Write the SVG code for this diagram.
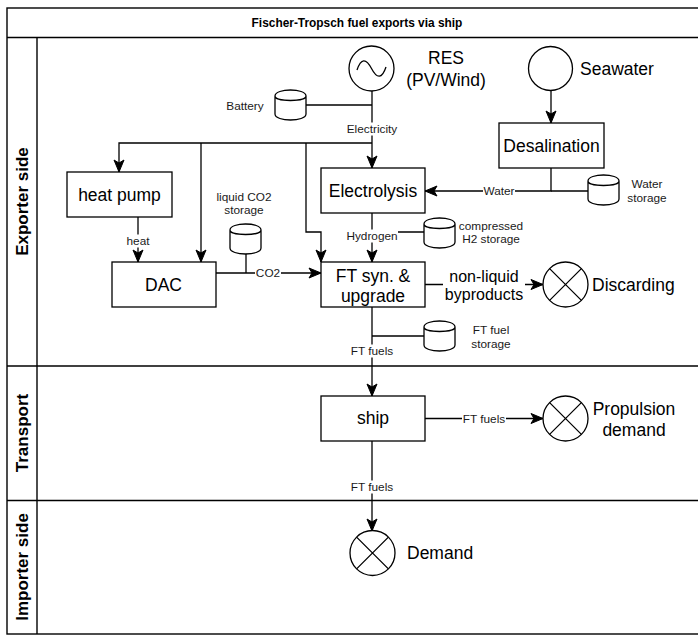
<svg xmlns="http://www.w3.org/2000/svg" width="698" height="635" viewBox="0 0 698 635">
<style>
.frame{fill:none;stroke:#000;stroke-width:1.4}
.box{fill:#fff;stroke:#000;stroke-width:1.3}
.ln{fill:none;stroke:#000;stroke-width:1.3}
.arr{fill:none;stroke:#000;stroke-width:1.3;marker-end:url(#ah)}
.t{font-family:"Liberation Sans",Arial,sans-serif;fill:#000;text-anchor:middle;dominant-baseline:central}
.big{font-size:17.5px}
.mid{font-size:16px}
.sm{font-size:11.8px;fill:#1a1a1a}
.lane{font-size:17px;font-weight:bold}
.title{font-size:11.9px;font-weight:bold}
.bg{fill:#fff;stroke:none}
.st{text-anchor:start}
</style>
<defs>
<marker id="ah" markerUnits="userSpaceOnUse" markerWidth="13" markerHeight="11" refX="12" refY="5" orient="auto" overflow="visible">
<path d="M0,0 L12,5 L0,10 L3,5 Z" fill="#000" stroke="#000" stroke-width="1" stroke-linejoin="miter"/>
</marker>
<path id="cyl" d="M0,6 C0,-2 31,-2 31,6 L31,24 C31,32 0,32 0,24 Z M0,6 C0,12 31,12 31,6" fill="#fff" stroke="#000" stroke-width="1.3"/>
</defs>
<rect width="698" height="635" fill="#fff"/>

<g id="pool">
<rect class="frame" x="7" y="8" width="700" height="626"/>
<line class="frame" x1="7" y1="37.5" x2="707" y2="37.5"/>
<line class="frame" x1="37" y1="37.5" x2="37" y2="634"/>
<line class="frame" x1="7" y1="366" x2="707" y2="366"/>
<line class="frame" x1="7" y1="500.5" x2="707" y2="500.5"/>
<text class="t title" x="357" y="23">Fischer-Tropsch fuel exports via ship</text>
<text class="t lane" transform="translate(22,201.5) rotate(-90)">Exporter side</text>
<text class="t lane" transform="translate(22,433) rotate(-90)">Transport</text>
<text class="t lane" transform="translate(22,567) rotate(-90)">Importer side</text>
</g>

<g id="connectors">
<path class="arr" d="M372,91 V168"/>
<path class="ln" d="M306,105 H372"/>
<path class="arr" d="M372,143 H119 V172"/>
<path class="arr" d="M201,143 V262"/>
<path class="arr" d="M306,143 V232 H321 V262"/>
<path class="arr" d="M551,91 V123"/>
<path class="arr" d="M551,168 V191 H425"/>
<path class="ln" d="M551,191 H588"/>
<path class="arr" d="M372,213 V262"/>
<path class="ln" d="M372,232 H424"/>
<path class="arr" d="M138,217 V262"/>
<path class="arr" d="M216,273 H321"/>
<path class="ln" d="M246,253 V273"/>
<path class="arr" d="M425,284.5 H543"/>
<path class="arr" d="M372,307 V396"/>
<path class="ln" d="M372,336 H424"/>
<path class="arr" d="M425,418.5 H543"/>
<path class="arr" d="M372,441 V531"/>

<rect class="bg" x="346" y="122.5" width="52" height="13"/>
<text class="t sm" x="372" y="129">Electricity</text>
<rect class="bg" x="483" y="184.5" width="32" height="13"/>
<text class="t sm" x="499" y="191">Water</text>
<rect class="bg" x="346" y="229.5" width="52" height="13"/>
<text class="t sm" x="372" y="236">Hydrogen</text>
<rect class="bg" x="126" y="234.5" width="24" height="13"/>
<text class="t sm" x="138" y="241">heat</text>
<rect class="bg" x="255" y="266.5" width="26" height="13"/>
<text class="t sm" x="268" y="273">CO2</text>
<rect class="bg" x="443" y="266" width="82" height="38"/>
<text class="t mid" x="484" y="276">non-liquid</text>
<text class="t mid" x="484" y="294">byproducts</text>
<rect class="bg" x="350" y="344.5" width="44" height="13"/>
<text class="t sm" x="372" y="351">FT fuels</text>
<rect class="bg" x="462" y="412" width="44" height="13"/>
<text class="t sm" x="484" y="418.5">FT fuels</text>
<rect class="bg" x="350" y="480.5" width="44" height="13"/>
<text class="t sm" x="372" y="487">FT fuels</text>
</g>

<g id="res">
<circle class="box" cx="371.5" cy="68.5" r="22.5"/>
<path class="ln" d="M357,70 C361,58 366,58 371.5,68.5 C377,79 382,79 386,67"/>
<text class="t big" x="446" y="58">RES</text>
<text class="t big" x="446" y="80">(PV/Wind)</text>
</g>
<g id="battery">
<use href="#cyl" x="275" y="90"/>
<text class="t sm" x="245" y="106">Battery</text>
</g>
<g id="seawater">
<circle class="box" cx="550.5" cy="68.5" r="22"/>
<text class="t big st" x="580" y="69">Seawater</text>
</g>
<g id="desalination">
<rect class="box" x="499" y="123" width="105" height="45"/>
<text class="t big" x="551.5" y="146">Desalination</text>
</g>
<g id="water-storage">
<use href="#cyl" x="588" y="175"/>
<text class="t sm" x="647" y="184">Water</text>
<text class="t sm" x="647" y="198">storage</text>
</g>
<g id="electrolysis">
<rect class="box" x="321" y="168" width="104" height="45"/>
<text class="t big" x="373" y="190.5">Electrolysis</text>
</g>
<g id="h2-storage">
<use href="#cyl" x="424" y="218"/>
<text class="t sm" x="491" y="226">compressed</text>
<text class="t sm" x="491" y="239">H2 storage</text>
</g>
<g id="heat-pump">
<rect class="box" x="67" y="172" width="105" height="45"/>
<text class="t big" x="119.5" y="195">heat pump</text>
</g>
<g id="co2-storage">
<use href="#cyl" x="230" y="224"/>
<text class="t sm" x="244" y="197">liquid CO2</text>
<text class="t sm" x="244" y="210">storage</text>
</g>
<g id="dac">
<rect class="box" x="112" y="262" width="104" height="45"/>
<text class="t big" x="163.5" y="285">DAC</text>
</g>
<g id="ft">
<rect class="box" x="321" y="262" width="104" height="45"/>
<text class="t big" x="373" y="275.5">FT syn. &amp;</text>
<text class="t big" x="373" y="295.5">upgrade</text>
</g>
<g id="discarding">
<circle class="box" cx="565.5" cy="284.5" r="22.5"/>
<path class="ln" d="M549.6,268.6 L581.4,300.4 M581.4,268.6 L549.6,300.4"/>
<text class="t big st" x="592" y="284.5">Discarding</text>
</g>
<g id="ft-storage">
<use href="#cyl" x="424" y="321"/>
<text class="t sm" x="491" y="330">FT fuel</text>
<text class="t sm" x="491" y="344">storage</text>
</g>
<g id="ship">
<rect class="box" x="321" y="396" width="104" height="45"/>
<text class="t big" x="373" y="418">ship</text>
</g>
<g id="propulsion">
<circle class="box" cx="565.5" cy="418.5" r="22.5"/>
<path class="ln" d="M549.6,402.6 L581.4,434.4 M581.4,402.6 L549.6,434.4"/>
<text class="t big" x="634" y="409">Propulsion</text>
<text class="t big" x="634" y="430">demand</text>
</g>
<g id="demand">
<circle class="box" cx="372.5" cy="553" r="22.5"/>
<path class="ln" d="M356.6,537.1 L388.4,568.9 M388.4,537.1 L356.6,568.9"/>
<text class="t big st" x="407" y="553">Demand</text>
</g>
</svg>
